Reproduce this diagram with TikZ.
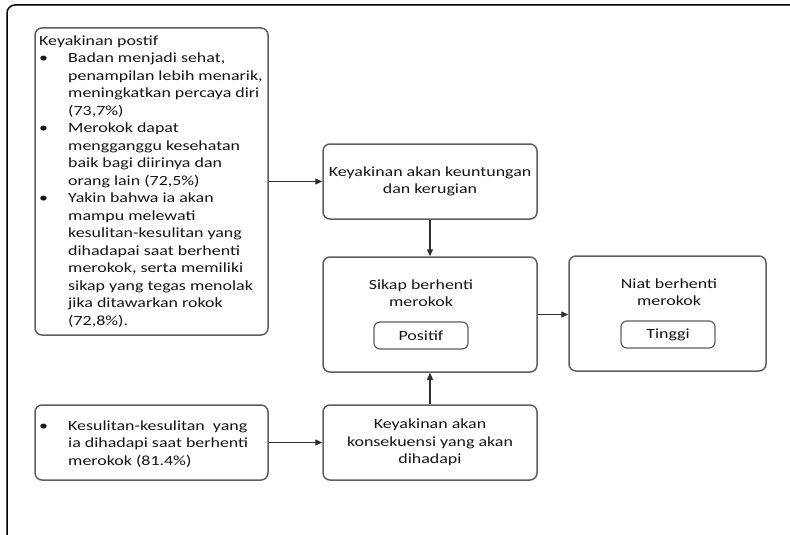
\documentclass[tikz,border=0pt]{standalone}
\usepackage{fontspec}
\setmainfont{Carlito}[FakeStretch=1.28]
\usetikzlibrary{arrows.meta}
\definecolor{boxgray}{HTML}{5E5E5E}
\definecolor{linegray}{HTML}{2E2E2E}
\definecolor{txt}{HTML}{141414}
\begin{document}
\begin{tikzpicture}[x=1pt,y=-1pt,
  every node/.style={font=\fontsize{14}{17.5}\selectfont, text=txt},
  box/.style={draw=boxgray, line width=1.5pt, rounded corners=7pt, inner sep=0pt},
  tag/.style={draw=boxgray, line width=1.2pt, rounded corners=6pt, minimum width=94pt, minimum height=27pt, inner sep=0pt},
  conn/.style={draw=linegray, line width=1.2pt, -{Triangle[length=7pt,width=6pt]}},
  txtblock/.style={inner sep=0pt, align=center}
]
\useasboundingbox (0,0) rectangle (790,535);
\begin{scope}
\clip (0,0) rectangle (790,535);
\draw[line width=1.5pt, rounded corners=8pt] (7,560) -- (7,5) -- (810,5);
\end{scope}

% Box A
\node[box, minimum width=233pt, minimum height=307pt] (A) at (151.5,181.5) {};
\node[anchor=north west, inner sep=0pt] (At) at (39,33) {%
\begin{tabular}{@{}p{29pt}@{}l@{}}
\multicolumn{2}{@{}l@{}}{Keyakinan postif}\\
\textbullet & Badan menjadi sehat,\\
 & penampilan lebih menarik,\\
 & meningkatkan percaya diri\\
 & (73,7\%)\\
\textbullet & Merokok dapat\\
 & mengganggu kesehatan\\
 & baik bagi diirinya dan\\
 & orang lain (72,5\%)\\
\textbullet & Yakin bahwa ia akan\\
 & mampu melewati\\
 & kesulitan-kesulitan yang\\
 & dihadapai saat berhenti\\
 & merokok, serta memiliki\\
 & sikap yang tegas menolak\\
 & jika ditawarkan rokok\\
 & (72,8\%).
\end{tabular}};

% Box B
\node[box, minimum width=214pt, minimum height=75pt, align=center] (B) at (430,181.5) {Keyakinan akan keuntungan\\dan kerugian};

% Box C
\node[box, minimum width=214pt, minimum height=115pt] (C) at (430,314.5) {};
\node[txtblock] (Ct) at (421,293) {Sikap berhenti\\merokok};
\node[tag] (P) at (421,335.5) {Positif};

% Box D
\node[box, minimum width=197pt, minimum height=115pt] (D) at (667.5,313.5) {};
\node[txtblock] (Dt) at (669,292) {Niat berhenti\\merokok};
\node[tag] (T) at (668,334.5) {Tinggi};

% Box E
\node[box, minimum width=233pt, minimum height=75pt] (E) at (151.5,442.5) {};
\node[anchor=north west, inner sep=0pt] (Et) at (39,418) {%
\begin{tabular}{@{}p{29pt}@{}l@{}}
\textbullet & Kesulitan-kesulitan\ \ yang\\
 & ia dihadapi saat berhenti\\
 & merokok (81.4\%)
\end{tabular}};

% Box F
\node[box, minimum width=214pt, minimum height=75pt, align=center] (F) at (430,442.5) {Keyakinan akan\\konsekuensi yang akan\\dihadapi};

% Connectors
\draw[conn] (A.east) -- (B.west);
\draw[conn] (B.south) -- (C.north);
\draw[conn] (C.east) -- (C.east -| D.west);
\draw[conn] (F.north) -- (C.south);
\draw[conn] (E.east) -- (F.west);
\end{tikzpicture}
\end{document}
